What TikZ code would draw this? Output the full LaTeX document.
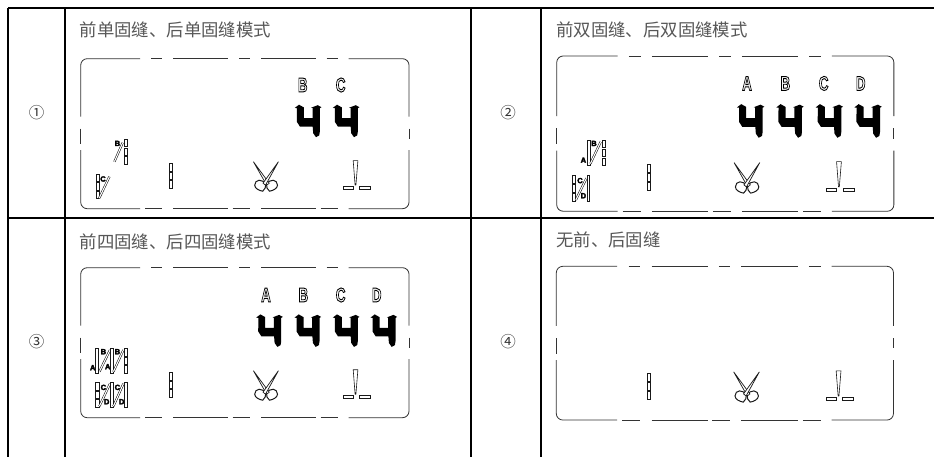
\documentclass[tikz,border=0pt]{standalone}
\usepackage{fontspec}
\setmainfont{Liberation Sans}
\newfontfamily\cjk{Noto Sans CJK SC}
\newcommand{\strokeon}{\special{pdf:code q 1 Tr 0.95 w 0 G}}
\newcommand{\strokeoff}{\special{pdf:code Q}}
\newcommand{\tinyon}{\special{pdf:code q 2 Tr 0.3 w 0 G 0 g}}
\tikzset{
  grid line/.style={line width=2.4pt,draw=black},
  lcd/.style={line width=0.8pt,draw=black!80,rounded corners=6.5pt},
  seg/.style={line width=0.6pt,draw=black!90,fill=white},
  needleline/.style={line width=0.5pt,draw=black,double=white,double distance=1.1pt},
  titletext/.style={font=\cjk\fontsize{17.4}{17.4}\selectfont,text=black!66,anchor=west,inner sep=0pt},
  numtext/.style={font=\cjk\fontsize{15.5}{15.5}\selectfont,text=black!80,inner sep=0pt},
  bigletter/.style={inner sep=0pt,font=\bfseries\fontsize{20}{20}\selectfont},
  tinyletter/.style={inner sep=0pt,font=\bfseries\fontsize{7.5}{7.5}\selectfont}
}
\newcommand{\lcdletter}[4]{\node[bigletter] (#1) at (#2,#3) {\scalebox{0.66}[1]{\strokeon #4\strokeoff}};}
\newcommand{\tinyl}[4]{\node[tinyletter] (#1) at (#2,#3) {\tinyon #4\strokeoff};}
\newcommand{\colrects}[2]{%
  \draw[seg] (#1,#2) rectangle ++(3.2,7.4);
  \draw[seg] (#1,#2+8.6) rectangle ++(3.2,7.4);
  \draw[seg] (#1,#2+17.2) rectangle ++(3.2,7.4);}
\newcommand{\longrect}[2]{\draw[seg] (#1,#2) rectangle ++(2.8,24.8);}
\newcommand{\slashline}[4]{\draw[needleline] (#1,#2) -- (#3,#4);}
\newcommand{\lcddigit}[2]{%
  \begin{scope}[shift={(#1,#2)}]
  \fill[black] (3,0) -- (7.8,2.7) -- (7.8,13.5) -- (16.5,13.5) -- (16.5,3.3) -- (15.2,3) -- (21.7,0.5)
    -- (25.5,2.5) -- (23.8,3.5) -- (23.8,27) -- (23.2,30.7) -- (20,32.5) -- (17.2,28.5) -- (16.7,22)
    -- (4,22) -- (0.8,17) -- (1,3.5) -- (-1.2,3.2) -- cycle;
  \end{scope}}
\newcommand{\frameoutline}{%
  \draw[lcd] (0,58) -- (0,0) -- (59.3,0);
  \draw[lcd] (70.3,0) -- (81.7,0);
  \draw[lcd] (92.7,0) -- (147.7,0);
  \draw[lcd] (158.3,0) -- (169.3,0);
  \draw[lcd] (180.3,0) -- (235.3,0);
  \draw[lcd] (246,0) -- (257.7,0);
  \draw[lcd] (268,0) -- (328.3,0) -- (328.3,58);
  \draw[lcd] (0,70) -- (0,85.5);
  \draw[lcd] (328.3,70) -- (328.3,80);
  \draw[lcd] (0,91.5) -- (0,150) -- (59.3,150);
  \draw[lcd] (328.3,91.5) -- (328.3,150) -- (268,150);
  \draw[lcd] (64.3,150) -- (81.7,150);
  \draw[lcd] (92.7,150) -- (147.7,150);
  \draw[lcd] (152,150) -- (169.3,150);
  \draw[lcd] (180.3,150) -- (235.3,150);
  \draw[lcd] (240,150) -- (257.7,150);}
\newcommand{\commonicons}[1]{%
  \colrects{88.3}{104.8}
  \draw[seg,fill=none,line width=1pt] (185,126) .. controls (182,119.5) and (174,120.5) .. (174,126.5) .. controls (174,130) and (179,132) .. (182,132.5) .. controls (184,131) and (185.5,128) .. (185,126);
  \draw[seg,fill=none,line width=1pt] (185.8,126) .. controls (188.8,119.5) and (196.8,120.5) .. (196.8,126.5) .. controls (196.8,130) and (191.8,132) .. (188.8,132.5) .. controls (186.8,131) and (185.3,128) .. (185.8,126);
  \draw[seg,line width=0.7pt] (172.7,103) -- (188.5,124.5) -- (186,126.5) -- cycle;
  \draw[seg,line width=0.7pt] (197.7,103) -- (182.3,124.5) -- (184.8,126.5) -- cycle;
  \draw[seg] (272.5,102) -- (277.2,102) -- (275.2,126.5) -- (274.4,126.5) -- cycle;
  \draw[seg] (262.7,127.6) rectangle (272.5,130.6);
  \draw[seg] (278.9,127.6) rectangle (289.3,130.6);}
\newcommand{\panel}[5]{%
  \begin{scope}[shift={(#1,#2)},xscale=#3,yscale=#4]
  \frameoutline
  \commonicons{}
  #5
  \end{scope}}
\begin{document}
\begin{tikzpicture}[x=1pt,y=-1pt]
\useasboundingbox (0,0) rectangle (934,457);
\fill[white] (0,0) rectangle (934,457);
\coordinate (tl) at (8,8);
\coordinate (tr) at (934,8);
\coordinate (ml) at (8,218);
\coordinate (mr) at (934,218);
\draw[grid line] (tl) -- (tr);
\draw[grid line] (ml) -- (mr);
\draw[grid line] (tl) -- (8,457);
\draw[grid line] (65,8) -- (65,457);
\draw[grid line] (471,8) -- (471,457);
\draw[grid line] (541,8) -- (541,457);
\node[numtext] (n1) at (36.5,113) {①};
\node[numtext] (n2) at (508,113) {②};
\node[numtext] (n3) at (36.5,342) {③};
\node[numtext] (n4) at (508,342) {④};
\node[titletext] (t1) at (79.5,30) {前单固缝、后单固缝模式};
\node[titletext] (t2) at (556,30) {前双固缝、后双固缝模式};
\node[titletext] (t3) at (79.5,242) {前四固缝、后四固缝模式};
\node[titletext] (t4) at (556,240) {无前、后固缝};
\panel{80.7}{58.7}{1}{1}{
  \lcdletter{p1B}{222}{26.3}{B}
  \lcdletter{p1C}{260}{26.3}{C}
  \lcddigit{215.3}{46}
  \lcddigit{253.3}{46}
  \colrects{43.7}{80.7}
  \slashline{42}{84}{33.7}{103}
  \tinyl{p1b}{36.7}{84.7}{B}
  \colrects{15.3}{115.3}
  \slashline{28.7}{118}{18.5}{139.5}
  \tinyl{p1c}{22.3}{120.3}{C}
}
\panel{556.7}{56}{1.027}{1.035}{
  \lcdletter{p2A}{185.3}{26.5}{A}
  \lcdletter{p2B}{222.7}{26.5}{B}
  \lcdletter{p2C}{260}{26.5}{C}
  \lcdletter{p2D}{296}{26.5}{D}
  \lcddigit{176.7}{46.5}
  \lcddigit{215}{46.5}
  \lcddigit{253.3}{46.5}
  \lcddigit{291}{46.5}
  \tinyl{p2a}{26}{100.6}{A}
  \longrect{29.8}{81.2}
  \slashline{42.8}{83}{32.8}{104}
  \tinyl{p2b}{36.3}{84.5}{B}
  \colrects{44}{81.2}
  \colrects{15.3}{115.5}
  \slashline{29}{118}{18.7}{139}
  \tinyl{p2c}{22.7}{120.4}{C}
  \tinyl{p2d}{26}{135}{D}
  \longrect{29.4}{115.5}
}
\panel{80.7}{267.7}{1}{1}{
  \lcdletter{p3A}{185.3}{27.3}{A}
  \lcdletter{p3B}{222.7}{27.3}{B}
  \lcdletter{p3C}{260}{27.3}{C}
  \lcdletter{p3D}{296}{27.3}{D}
  \lcddigit{176.7}{46.7}
  \lcddigit{215}{46.7}
  \lcddigit{253.3}{46.7}
  \lcddigit{291}{46.7}
  \tinyl{p3a}{12}{100}{A}
  \longrect{15}{80.7}
  \slashline{29.3}{82.3}{18.7}{104}
  \tinyl{p3b}{22.7}{84}{B}
  \tinyl{p3e}{27}{99}{A}
  \longrect{29.3}{80.7}
  \slashline{42.7}{82.3}{32.7}{104}
  \tinyl{p3f}{36.7}{84}{B}
  \colrects{43.5}{80.7}
  \colrects{15}{114.7}
  \slashline{29.3}{116}{18.7}{138.5}
  \tinyl{p3c}{22.7}{119.7}{C}
  \tinyl{p3d}{26}{134}{D}
  \longrect{29.3}{114.7}
  \slashline{42.7}{116}{32.7}{138.5}
  \tinyl{p3g}{36.7}{119.7}{C}
  \tinyl{p3h}{41}{134}{D}
  \longrect{43.7}{114.7}
}
\panel{556.3}{266.3}{1.027}{1.025}{}
\end{tikzpicture}
\end{document}
